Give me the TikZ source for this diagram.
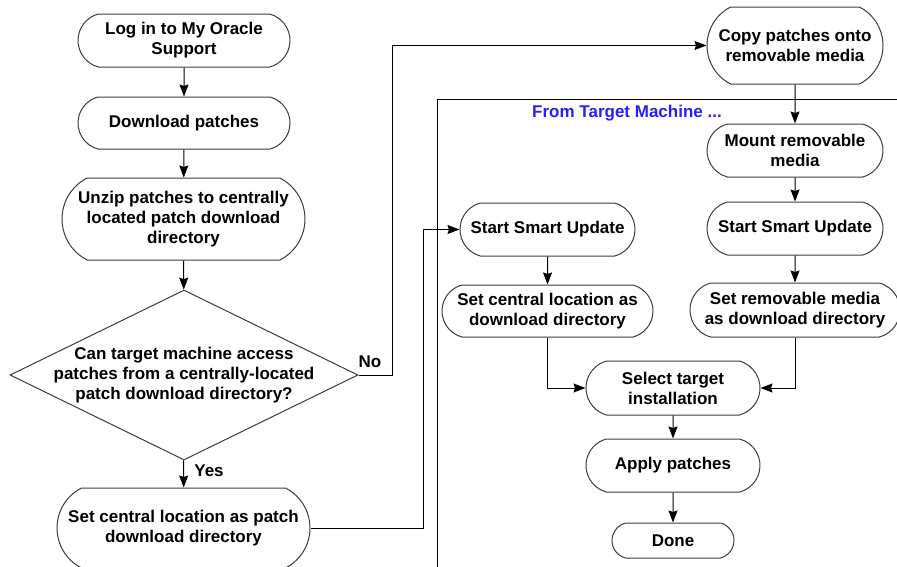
\documentclass[tikz,border=0pt]{standalone}
\usepackage{fontspec}
\setmainfont{Liberation Sans}
\usetikzlibrary{shapes.geometric,shapes.misc,arrows.meta}
\definecolor{labelblue}{RGB}{40,30,250}
\definecolor{edgegray}{RGB}{60,60,60}

\begin{document}
\begin{tikzpicture}[x=1pt,y=-1pt,
  font=\bfseries\fontsize{17}{20}\selectfont,
  term/.style={draw=edgegray, line width=1pt, rounded rectangle, rounded rectangle arc length=150,
    align=center, inner sep=0pt},
  tall/.style={rounded rectangle arc length=126},
  decision/.style={draw=edgegray, line width=1pt, diamond, aspect=2.05, align=center,
    inner xsep=-20pt, inner ysep=-5pt},
  flow/.style={draw, line width=1pt, -{Stealth[length=12pt,width=9pt,inset=1.5pt]}},
  frame/.style={draw, line width=1pt},
]
\clip (0,0) rectangle (897,566);

% left column: obtaining the patches
\node[term, minimum width=212pt, minimum height=53pt] (login) at (184,40.5) {Log in to My Oracle\\Support};
\node[term, minimum width=212pt, minimum height=52pt] (download) at (184,123) {Download patches};
\node[term, tall, minimum width=243pt, minimum height=82pt] (unzip) at (183.5,219) {Unzip patches to centrally\\located patch download\\directory};
\node[decision, minimum width=348pt, minimum height=170pt] (q) at (184,375) {Can target machine access\\patches from a centrally-located\\patch download directory?};
\node[term, tall, minimum width=253pt, minimum height=80pt] (setc) at (183.5,528) {Set central location as patch\\download directory};

\node (no) at (370,362) {No};
\node (yes) at (209,471) {Yes};

% removable media branch
\node[term, tall, minimum width=176pt, minimum height=77pt] (copy) at (795,45.5) {Copy patches onto\\removable media};
\node[term, minimum width=176pt, minimum height=53pt] (mount) at (795,150.5) {Mount removable\\media};
\node[term, minimum width=176pt, minimum height=53pt] (startR) at (795,228.5) {Start Smart Update};
\node[term, minimum width=210pt, minimum height=54pt] (setrm) at (795,310) {Set removable media\\as download directory};

% central location branch
\node[term, minimum width=175pt, minimum height=53pt] (startL) at (547.5,229.5) {Start Smart Update};
\node[term, minimum width=211pt, minimum height=52pt] (setcd) at (547.5,311) {Set central location as\\download directory};

% common steps
\node[term, minimum width=174pt, minimum height=54pt] (select) at (673,388) {Select target\\installation};
\node[term, minimum width=174pt, minimum height=53pt] (apply) at (673,465.5) {Apply patches};
\node[term, minimum width=122pt, minimum height=35pt] (done) at (673,540.5) {Done};

% target machine frame
\draw[frame] (437,575) -- (437,99) -- (905,99);
\node[text=labelblue] (target) at (627,113) {From Target Machine ...};

% connectors
\draw[flow] (login) -- (download);
\draw[flow] (download) -- (unzip);
\draw[flow] (unzip) -- (q);
\draw[flow] (q) -- (setc);
\draw[flow] (q.east) -- ++(34,0) |- (copy.west);
\draw[flow] (setc.east) -- ++(113,0) |- (startL.west);
\draw[flow] (copy) -- (mount);
\draw[flow] (mount) -- (startR);
\draw[flow] (startR) -- (setrm);
\draw[flow] (startL) -- (setcd);
\draw[flow] (setcd.south) |- (select.west);
\draw[flow] (setrm.south) |- (select.east);
\draw[flow] (select) -- (apply);
\draw[flow] (apply) -- (done);
\end{tikzpicture}
\end{document}
